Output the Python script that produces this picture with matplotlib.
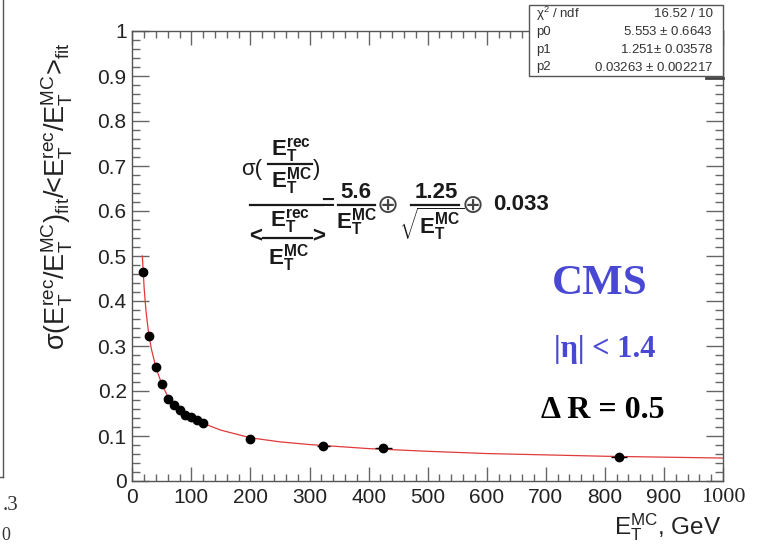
import matplotlib
matplotlib.use("Agg")
import matplotlib.pyplot as plt
from matplotlib.lines import Line2D
from matplotlib.patches import Rectangle
from matplotlib.ticker import MultipleLocator

plt.rcParams['font.family'] = ['Liberation Sans', 'DejaVu Sans']
plt.rcParams['mathtext.fontset'] = 'custom'
plt.rcParams['mathtext.rm'] = 'Liberation Sans'
plt.rcParams['mathtext.it'] = 'Liberation Sans:italic'
plt.rcParams['mathtext.bf'] = 'Liberation Sans:bold'
plt.rcParams['mathtext.default'] = 'regular'

# measured points
et_mc = [18.5, 29, 40, 50, 60, 70, 80, 90, 100, 110, 120, 200, 323, 425, 824]
sigma = [0.465, 0.322, 0.253, 0.215, 0.183, 0.168, 0.157, 0.147, 0.143, 0.136, 0.129, 0.093, 0.078, 0.073, 0.0526]
et_err = [1, 1.5, 1.5, 1.5, 1.5, 1.5, 1.5, 1.5, 1.5, 1.5, 1.5, 3, 11, 14, 14]

# red fit curve
fit_x = [17, 18.5, 20, 23, 27, 32, 40, 50, 60, 70, 80, 100, 120, 150, 200, 250, 300,
         400, 500, 600, 700, 800, 900, 1000]
fit_y = [0.50, 0.465, 0.43, 0.38, 0.335, 0.295, 0.252, 0.215, 0.188, 0.17, 0.157, 0.14,
         0.128, 0.113, 0.096, 0.087, 0.081, 0.072, 0.066, 0.061, 0.058, 0.055, 0.053, 0.051]

xticks = [0, 100, 200, 300, 400, 500, 600, 700, 800, 900, 1000]
yticks = [0, 0.1, 0.2, 0.3, 0.4, 0.5, 0.6, 0.7, 0.8, 0.9, 1]
ytick_labels = ['0', '0.1', '0.2', '0.3', '0.4', '0.5', '0.6', '0.7', '0.8', '0.9', '1']

stat_names = [r'$\chi^2$ / ndf', 'p0', 'p1', 'p2']
stat_values = ['16.52 / 10', '5.553 $\\pm$ 0.6643', '1.251$\\pm$ 0.03578', '0.03263 $\\pm$ 0.002217']

W, H = 763, 545
fig = plt.figure(figsize=(W / 100, H / 100), dpi=100)


def fx(px):
    return px / W


def fy(py):
    return 1 - py / H


def ptext(px, py, s, **kw):
    return fig.text(fx(px), fy(py), s, **kw)


def pline(x0, x1, y0, y1, **kw):
    fig.add_artist(Line2D([fx(x0), fx(x1)], [fy(y0), fy(y1)],
                          transform=fig.transFigure, **kw))


ax = fig.add_axes([fx(132.3), fy(481), fx(723) - fx(132.3), fy(31) - fy(481)])

ax.plot(fit_x, fit_y, color='#e03a3a', lw=0.9, zorder=2)
ax.errorbar(et_mc, sigma, xerr=et_err, fmt='o', color='black', ms=6,
            elinewidth=1, capsize=0, zorder=3)

ax.set_xlim(0, 1000)
ax.set_ylim(0, 1)
ax.set_xticks(xticks)
ax.set_xticklabels([str(v) for v in xticks])
ax.set_yticks(yticks)
ax.set_yticklabels(ytick_labels)
ax.xaxis.set_minor_locator(MultipleLocator(20))
ax.yaxis.set_minor_locator(MultipleLocator(0.02))

for s in ax.spines.values():
    s.set_color('#555555')
    s.set_linewidth(1.0)
ax.tick_params(axis='both', which='both', direction='in', top=True, right=True,
               color='#666666', labelsize=15, labelcolor='#222222')
ax.tick_params(axis='x', which='major', length=10, width=1, pad=5)
ax.tick_params(axis='x', which='minor', length=5, width=1)
ax.tick_params(axis='y', which='major', length=12, width=1, pad=4)
ax.tick_params(axis='y', which='minor', length=6, width=1)
# ROOT drew the last x label in a serif face
ax.get_xticklabels()[-1].set_fontfamily('Liberation Serif')
ax.get_xticklabels()[-1].set_fontsize(16)

ptext(57, 196,
      r'σ($E_T^{rec}$/$E_T^{MC}$)$_{fit}$/<$E_T^{rec}$/$E_T^{MC}$>$_{fit}$',
      rotation=90, ha='center', va='center', fontsize=19.5, color='#222222')
ptext(721, 527, r'$E_T^{MC}$, GeV', ha='right', va='center',
      fontsize=17.5, color='#222222')

# resolution formula, laid out piece by piece
fc = '#1a1a1a'
fs = 16
ER = r'$\mathbf{E_T^{rec}}$'
EM = r'$\mathbf{E_T^{MC}}$'
fkw = dict(ha='center', va='center', fontsize=fs, color=fc)
okw = dict(ha='center', va='center', fontsize=19, color='#444444', family='DejaVu Sans')
ptext(262, 169, 'σ(', ha='right', va='center', fontsize=fs, color=fc)
ptext(291, 150, ER, **fkw)
pline(268, 312, 164, 164, color=fc, lw=1.6)
ptext(291, 181, EM, **fkw)
ptext(313, 169, ')', ha='left', va='center', fontsize=fs, color=fc)
pline(250, 323, 205, 205, color=fc, lw=1.6)
ptext(290, 221, ER, **fkw)
ptext(262, 237, '<', ha='right', va='center', fontsize=fs, color=fc, fontweight='bold')
pline(263, 312, 238, 238, color=fc, lw=1.6)
ptext(312, 237, '>', ha='left', va='center', fontsize=fs, color=fc, fontweight='bold')
ptext(288, 258, EM, **fkw)
ptext(328, 204, '=', ha='center', va='center', fontsize=fs, color=fc, fontweight='bold')
ptext(356, 192, '5.6', fontweight='bold', **fkw)
pline(338, 375, 205, 205, color=fc, lw=1.6)
ptext(356, 222, EM, **fkw)
ptext(388, 206, '⊕', **okw)
ptext(436, 192, '1.25', fontweight='bold', **fkw)
pline(411, 459, 205, 205, color=fc, lw=1.6)
ptext(432, 224, r'$\sqrt{\mathbf{E_T^{MC}}}$', **fkw)
ptext(473, 206, '⊕', **okw)
ptext(521, 205, '0.033', fontweight='bold', **fkw)

blue = '#4848d4'
ptext(600, 284, 'CMS', ha='center', va='center', fontsize=31,
      fontweight='bold', family='Liberation Serif', color=blue)
ptext(605, 350, '|η| < 1.4', ha='center', va='center', fontsize=22,
      fontweight='bold', family='Liberation Serif', color=blue)
ptext(603, 410, 'Δ R = 0.5', ha='center', va='center', fontsize=23,
      fontweight='bold', family='Liberation Serif', color='black')

# stats box
bx0, by0, bx1, by1 = 529, 5, 723, 76
fig.add_artist(Rectangle((fx(bx0), fy(by1)), fx(bx1) - fx(bx0), fy(by0) - fy(by1),
                         transform=fig.transFigure, facecolor='white',
                         edgecolor='#555555', lw=1, zorder=5))
pline(706, 723, 77.5, 77.5, color='#444444', lw=2, zorder=5)
for i, (name, val) in enumerate(zip(stat_names, stat_values)):
    yy = 14 + 17.8 * i
    ptext(536, yy, name, ha='left', va='center', fontsize=9.5, color='#333333', zorder=6)
    ptext(713, yy, val, ha='right', va='center', fontsize=9.5, color='#333333', zorder=6)

# piece of the neighbouring panel on the left edge
pline(3, 3, 0, 477, color='#555555', lw=1)
pline(0, 3, 477, 477, color='#555555', lw=1)
ptext(10, 505, '.3', ha='center', va='center', fontsize=15,
      family='Liberation Serif', color='#333333')
ptext(1, 535, '0', ha='left', va='center', fontsize=13,
      family='Liberation Serif', color='#333333')

fig.savefig('out.png', dpi=100)
